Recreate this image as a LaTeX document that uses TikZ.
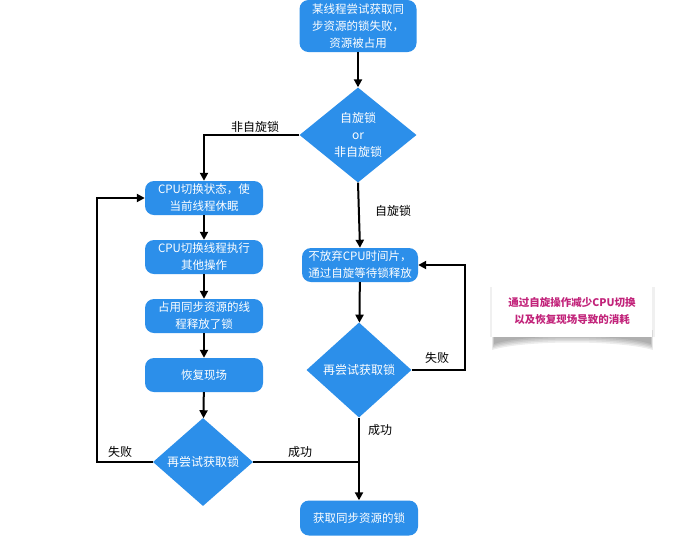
\documentclass[tikz,border=0pt]{standalone}
\usepackage{fontspec}
\setmainfont{Noto Sans CJK SC}
\usetikzlibrary{shapes.geometric,arrows.meta}
\definecolor{fcblue}{HTML}{2C8FEA}
\definecolor{notepink}{HTML}{C2237A}
\begin{document}
\begin{tikzpicture}[x=1pt,y=-1pt,
  box/.style={rounded corners=9pt, fill=fcblue, text=white, minimum width=118pt, minimum height=34pt, align=center, font=\fontsize{11.5}{17}\selectfont, inner sep=1pt},
  dia/.style={diamond, fill=fcblue, text=white, align=center, inner sep=0pt, font=\fontsize{12}{17}\selectfont},
  arr/.style={line width=2pt, -{Triangle[length=8pt,width=8pt]}},
  ln/.style={line width=2pt},
  lbl/.style={font=\fontsize{12}{14}\selectfont, text=black},
  shd/.style={fill=black, opacity=0.07}]
\useasboundingbox (0,0) rectangle (686,542);
\fill[white] (0,0) rectangle (686,542);

\node[box, minimum width=117pt, minimum height=52pt] (top) at (358,26) {某线程尝试获取同\\步资源的锁失败，\\资源被占用};
\node[dia, minimum width=117pt, minimum height=95pt] (d1) at (358,135) {自旋锁\\or\\非自旋锁};

\node[box] (L1) at (204,198) {CPU切换状态，使\\当前线程休眠};
\node[box] (L2) at (204,257) {CPU切换线程执行\\其他操作};
\node[box] (L3) at (204,316) {占用同步资源的线\\程释放了锁};
\node[box] (L4) at (204,375) {恢复现场};
\node[dia, minimum width=100pt, minimum height=88pt] (d2) at (203,462) {再尝试获取锁};

\node[box, minimum width=116pt] (R1) at (360,265) {不放弃CPU时间片，\\通过自旋等待锁释放};
\node[dia, minimum width=105pt, minimum height=95pt] (d3) at (359,370) {再尝试获取锁};
\node[box, minimum height=35pt] (F) at (359,518) {获取同步资源的锁};

% note shadow (curled page)
\foreach \d in {0,1.5,3,4.5,6}{
  \fill[shd] (494-\d*0.3,330) -- (651+\d*0.3,330) -- (651+\d*0.3,344+\d) .. controls (620,334+\d) and (524,334+\d) .. (494-\d*0.3,344+\d) -- cycle;
}
\fill[black, opacity=0.06] (490,287) rectangle (655,337);
\node[fill=white, minimum width=160pt, minimum height=52pt, align=center,
  text=notepink, font=\fontsize{10.5}{17}\selectfont\bfseries] (note) at (572,311)
  {通过自旋操作减少CPU切换\\以及恢复现场导致的消耗};

\coordinate (lf) at (97,462);
\coordinate (rf) at (465,370);

\draw[arr] (top) -- (d1);
\draw[arr] (d1.west) -| (L1.north);
\draw[arr] (d1.south) -- (R1.north);
\draw[arr] (L1) -- (L2);
\draw[arr] (L2) -- (L3);
\draw[arr] (L3) -- (L4);
\draw[arr] (L4) -- (d2);
\draw[arr] (d2.west) -- (lf) |- (L1.west);
\draw[ln] (d2.east) -- (d2.east -| F.north);
\draw[arr] (d3.south) -- (F.north);
\draw[arr] (d3.east) -- (rf) |- (R1.east);
\draw[arr] (R1) -- (d3);

\node[lbl] (t1) at (255,127) {非自旋锁};
\node[lbl] (t2) at (393,211) {自旋锁};
\node[lbl] (t3) at (120,452) {失败};
\node[lbl] (t4) at (300,452) {成功};
\node[lbl] (t5) at (437,358) {失败};
\node[lbl] (t6) at (380,430) {成功};
\end{tikzpicture}
\end{document}
